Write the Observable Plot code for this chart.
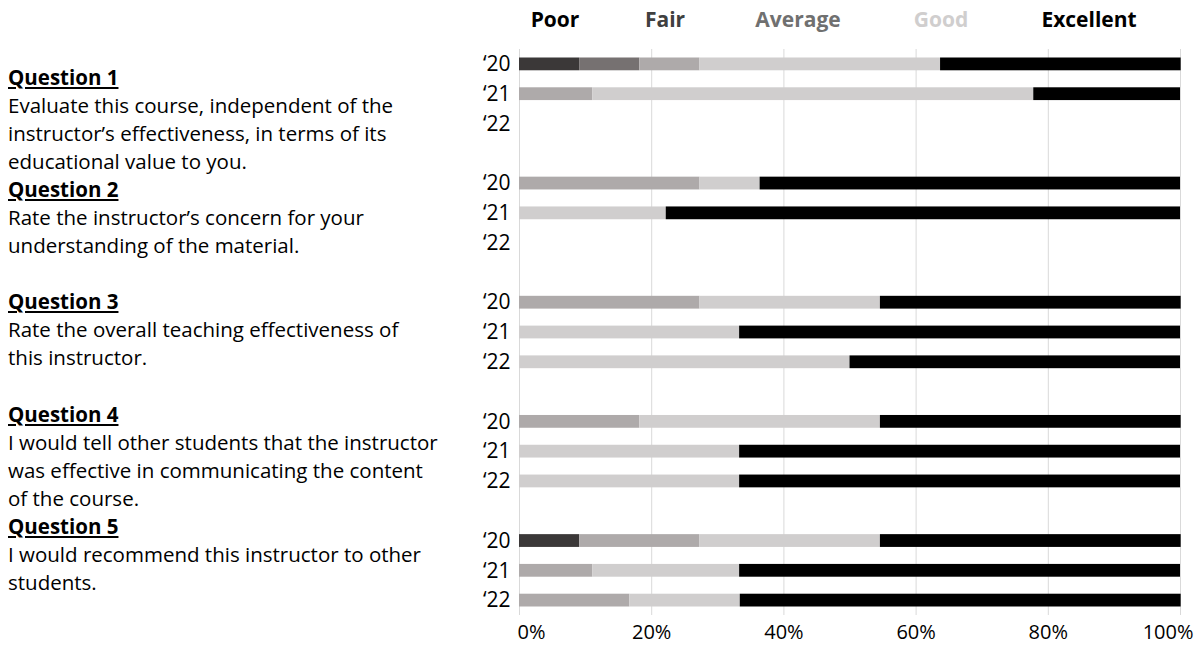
<!DOCTYPE html>
<html>
<head>
<meta charset="utf-8">
<script src="https://cdn.jsdelivr.net/npm/d3@7"></script>
<script src="https://cdn.jsdelivr.net/npm/@observablehq/plot@0.6"></script>
<style>
  html, body { margin: 0; padding: 0; background: #fff; }
  #wrap { position: relative; width: 1197px; height: 650px; overflow: hidden; font-family: "Open Sans", Lato, sans-serif; }
  #legend { position: relative; height: 40px; width: 1197px; }
  #legend span { position: absolute; top: 5px; transform: translateX(-50%); font-weight: 700; font-size: 21px; white-space: nowrap; }
  #questions { position: absolute; left: 8px; top: 63px; font-size: 20.5px; line-height: 28.05px; color: #000; white-space: nowrap; }
  #questions .t { font-weight: 700; text-decoration: underline; }
  #chart svg { display: block; }
</style>
</head>
<body>
<div id="wrap">
  <div id="legend"></div>
  <div id="chart"></div>
  <div id="questions"></div>
</div>
<script>
// ---- data ----
const levels = ["Poor", "Fair", "Average", "Good", "Excellent"];
const levelColors = ["#3b3838", "#767171", "#aeaaaa", "#d0cece", "#000000"];
const legendTextColors = ["#000000", "#404040", "#707070", "#d0cece", "#000000"];

const questions = ["Q1", "Q2", "Q3", "Q4", "Q5"];
const years = ["‘20", "‘21", "‘22"];

// rows in order: Q1 '20, '21, '22, Q2 ..., Q5 '22  (percent)
const poor      = [9.1, 0, 0,   0, 0, 0,      0, 0, 0,       0, 0, 0,        9.1, 0, 0];
const fair      = [9.1, 0, 0,   0, 0, 0,      0, 0, 0,       0, 0, 0,        0, 0, 0];
const average   = [9.1, 11.1, 0, 27.3, 0, 0,  27.3, 0, 0,    18.2, 0, 0,     18.2, 11.1, 16.7];
const good      = [36.4, 66.7, 0, 9.1, 22.2, 0, 27.3, 33.3, 50, 36.4, 33.3, 33.3, 27.3, 22.2, 16.7];
const excellent = [36.4, 22.2, 0, 63.6, 77.8, 0, 45.5, 66.7, 50, 45.5, 66.7, 66.7, 45.5, 66.7, 66.7];

const xTicks = [0, 20, 40, 60, 80, 100];

const questionText = [
  ["Question 1", "Evaluate this course, independent of the", "instructor’s effectiveness, in terms of its", "educational value to you."],
  ["Question 2", "Rate the instructor’s concern for your", "understanding of the material.", ""],
  ["Question 3", "Rate the overall teaching effectiveness of", "this instructor.", ""],
  ["Question 4", "I would tell other students that the instructor", "was effective in communicating the content", "of the course."],
  ["Question 5", "I would recommend this instructor to other", "students."]
];

// ---- build table ----
const series = [poor, fair, average, good, excellent];
const rowKeys = [];
questions.forEach((q, qi) => {
  years.forEach(y => { rowKeys.push(q + " " + y); });
  if (qi < questions.length - 1) rowKeys.push("gap" + qi);
});
const table = [];
let r = 0;
questions.forEach(q => {
  years.forEach(y => {
    levels.forEach((lv, li) => {
      table.push({row: q + " " + y, level: lv, value: series[li][r]});
    });
    r++;
  });
});

// ---- legend ----
const legendX = [555, 665, 798, 941, 1089];
const legend = document.getElementById("legend");
levels.forEach((lv, i) => {
  const s = document.createElement("span");
  s.textContent = lv;
  s.style.left = legendX[i] + "px";
  s.style.color = legendTextColors[i];
  legend.appendChild(s);
});

// ---- question text ----
const qdiv = document.getElementById("questions");
questionText.forEach(block => {
  block.forEach((line, i) => {
    const d = document.createElement("div");
    if (i === 0) d.className = "t";
    d.textContent = line === "" ? "\u00a0" : line;
    qdiv.appendChild(d);
  });
});

// ---- chart ----
const chart = Plot.plot({
  width: 1197,
  height: 610,
  marginLeft: 519,
  marginRight: 17,
  marginTop: 9,
  marginBottom: 35,
  style: {fontFamily: "'Open Sans', Lato, sans-serif", fontSize: "20px", color: "#000", background: "#fff"},
  x: {domain: [0, 100]},
  y: {domain: rowKeys, padding: 0, round: false},
  color: {domain: levels, range: levelColors},
  marks: [
    Plot.gridX(xTicks, {stroke: "#d9d9d9", strokeOpacity: 1, strokeWidth: 1}),
    Plot.barX(table, Plot.stackX({x: "value", y: "row", fill: "level", order: levels, insetTop: 8.5, insetBottom: 8.5})),
    Plot.axisX(xTicks.slice(1, -1), {tickFormat: d => d + "%", tickSize: 0, tickPadding: 9, fontSize: 20, label: null}),
    Plot.axisX(xTicks.slice(0, 1), {tickFormat: d => d + "%", tickSize: 0, tickPadding: 9, fontSize: 20, textAnchor: "start", dx: -2, label: null}),
    Plot.axisX(xTicks.slice(-1), {tickFormat: d => d + "%", tickSize: 0, tickPadding: 9, fontSize: 20, textAnchor: "end", dx: 13, label: null}),
    Plot.axisY({ticks: rowKeys.filter(k => !k.startsWith("gap")), tickFormat: d => d.split(" ")[1], tickSize: 0, tickPadding: 9, fontSize: 21, label: null})
  ]
});
document.getElementById("chart").appendChild(chart);
</script>
</body>
</html>
